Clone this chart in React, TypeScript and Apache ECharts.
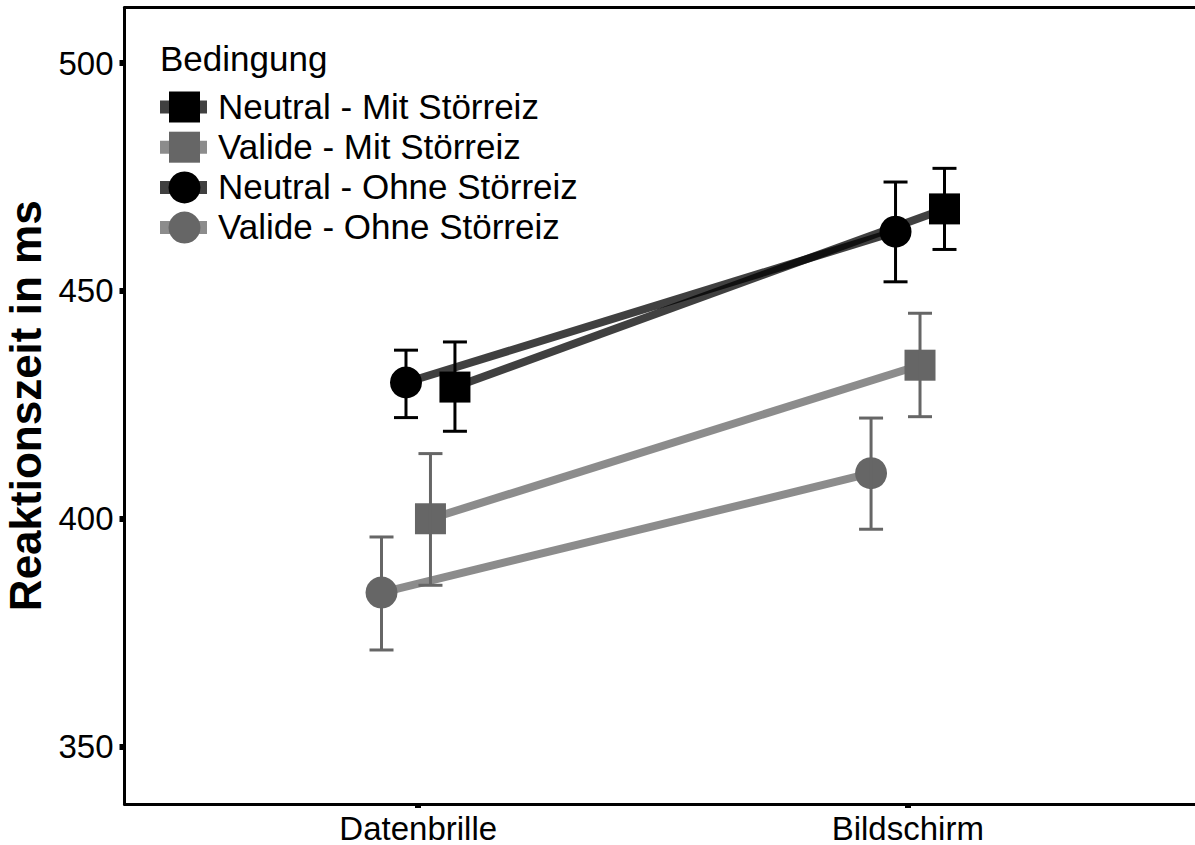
import React, { useEffect, useRef } from "react";
import * as echarts from "echarts";

const categories = ["Datenbrille", "Bildschirm"];
const yTicks = [350, 400, 450, 500];
const legendTitle = "Bedingung";
const yAxisTitle = "Reaktionszeit in ms";

const groupNames = [
  "Neutral - Mit Störreiz",
  "Valide - Mit Störreiz",
  "Neutral - Ohne Störreiz",
  "Valide - Ohne Störreiz",
];
// dodge offsets (category units)
const groupOffsets = [0.075, 0.025, -0.025, -0.075];
const groupSymbols = ["rect", "rect", "circle", "circle"];

const neutralMitMean = [428.9, 468.0];
const neutralMitLow = [419.2, 459.1];
const neutralMitHigh = [438.8, 476.9];

const valideMitMean = [400.0, 433.7];
const valideMitLow = [385.4, 422.4];
const valideMitHigh = [414.3, 445.1];

const neutralOhneMean = [429.9, 463.0];
const neutralOhneLow = [422.2, 452.0];
const neutralOhneHigh = [437.0, 473.9];

const valideOhneMean = [383.8, 410.0];
const valideOhneLow = [371.2, 397.7];
const valideOhneHigh = [396.0, 422.1];

const means = [neutralMitMean, valideMitMean, neutralOhneMean, valideOhneMean];
const lows = [neutralMitLow, valideMitLow, neutralOhneLow, valideOhneLow];
const highs = [neutralMitHigh, valideMitHigh, neutralOhneHigh, valideOhneHigh];

const FONT = "Liberation Sans, Arial, Helvetica, sans-serif";
const markerColors = ["#000000", "#666666", "#000000", "#666666"];
const lineColors = [
  "rgba(0,0,0,0.75)",
  "rgba(102,102,102,0.75)",
  "rgba(0,0,0,0.75)",
  "rgba(102,102,102,0.75)",
];
const markerSizes = [31, 31, 32, 32];

export default function App() {
  const ref = useRef<HTMLDivElement>(null);

  useEffect(() => {
    if (!ref.current) return;
    const chart = echarts.init(ref.current, undefined, { renderer: "svg" });

    const lineSeries: any[] = groupNames.map((name, g) => ({
      name,
      type: "line",
      z: 2,
      symbol: groupSymbols[g],
      symbolSize: markerSizes[g],
      lineStyle: { color: lineColors[g], width: 8 },
      itemStyle: { color: markerColors[g], borderWidth: 0 },
      emphasis: { disabled: true },
      data: categories.map((_, i) => [i + 1 + groupOffsets[g], means[g][i]]),
    }));

    const errSeries: any[] = groupNames.map((name, g) => ({
      name: name + " err",
      type: "custom",
      z: 3,
      silent: true,
      encode: { x: 0, y: [1, 2] },
      data: categories.map((_, i) => [i + 1 + groupOffsets[g], lows[g][i], highs[g][i]]),
      renderItem: (params: any, api: any) => {
        const x = api.value(0);
        const lo = api.coord([x, api.value(1)]);
        const hi = api.coord([x, api.value(2)]);
        const hw = 12;
        const st = { stroke: markerColors[g], lineWidth: 3 };
        return {
          type: "group",
          children: [
            { type: "line", shape: { x1: lo[0], y1: lo[1], x2: hi[0], y2: hi[1] }, style: st },
            { type: "line", shape: { x1: lo[0] - hw, y1: lo[1], x2: lo[0] + hw, y2: lo[1] }, style: st },
            { type: "line", shape: { x1: hi[0] - hw, y1: hi[1], x2: hi[0] + hw, y2: hi[1] }, style: st },
          ],
        };
      },
    }));

    // legend: key line + marker + label, as top-level graphic elements
    const legendTop = 107;
    const legendStep = 40.2;
    const legendElements: any[] = [];
    groupNames.forEach((name, g) => {
      const cy = legendTop + g * legendStep;
      legendElements.push({
        type: "rect",
        z: 10,
        silent: true,
        shape: { x: 160, y: cy - 6.5, width: 47, height: 13 },
        style: { fill: lineColors[g] },
      });
      if (groupSymbols[g] === "rect") {
        legendElements.push({
          type: "rect",
          z: 11,
          silent: true,
          shape: { x: 169, y: cy - 15.5, width: 31, height: 31 },
          style: { fill: markerColors[g] },
        });
      } else {
        legendElements.push({
          type: "circle",
          z: 11,
          silent: true,
          shape: { cx: 184.5, cy, r: 16 },
          style: { fill: markerColors[g] },
        });
      }
      legendElements.push({
        type: "text",
        z: 11,
        silent: true,
        x: 218,
        y: cy - 1,
        style: {
          text: name,
          fontFamily: FONT,
          fontSize: 35,
          fill: "#000",
          verticalAlign: "middle",
          align: "left",
        },
      });
    });
    legendElements.push({
      type: "text",
      z: 11,
      silent: true,
      x: 160,
      y: 58,
      style: {
        text: legendTitle,
        fontFamily: FONT,
        fontSize: 35,
        fill: "#000",
        verticalAlign: "middle",
        align: "left",
      },
    });

    chart.setOption({
      animation: false,
      backgroundColor: "#ffffff",
      grid: {
        left: 124.5,
        top: 7.5,
        width: 1077,
        height: 796.5,
        outerBoundsMode: "none",
        containLabel: false,
        show: false,
      },
      xAxis: [
        {
          type: "value",
          min: 0.4,
          max: 2.6,
          position: "bottom",
          splitLine: { show: false },
          axisLine: { show: true, lineStyle: { color: "#000", width: 3 } },
          axisTick: { show: true, length: 4, customValues: [1, 2], lineStyle: { color: "#000", width: 6 } },
          axisLabel: {
            customValues: [1, 2],
            margin: 8,
            formatter: (v: number) => categories[Math.round(v) - 1] ?? "",
            fontFamily: FONT,
            fontSize: 33,
            color: "#000",
          },
        },
        {
          type: "value",
          min: 0.4,
          max: 2.6,
          position: "top",
          splitLine: { show: false },
          axisLine: { show: true, lineStyle: { color: "#000", width: 3 } },
          axisTick: { show: false },
          axisLabel: { show: false },
        },
      ],
      yAxis: {
        type: "value",
        min: 337.4,
        max: 512.2,
        name: yAxisTitle,
        nameLocation: "middle",
        nameGap: 67,
        nameTextStyle: { fontFamily: FONT, fontSize: 44, fontWeight: "bold", color: "#000" },
        splitLine: { show: false },
        axisLine: { show: true, lineStyle: { color: "#000", width: 3 } },
        axisTick: { show: true, length: 5, customValues: yTicks, lineStyle: { color: "#000", width: 6 } },
        axisLabel: {
          customValues: yTicks,
          margin: 11,
          fontFamily: FONT,
          fontSize: 33,
          color: "#000",
        },
      },
      graphic: legendElements,
      series: [...lineSeries, ...errSeries],
    });

    return () => chart.dispose();
  }, []);

  return (
    <div
      ref={ref}
      style={{ position: "fixed", left: 0, top: 0, width: 1195, height: 845, background: "#fff" }}
    />
  );
}
